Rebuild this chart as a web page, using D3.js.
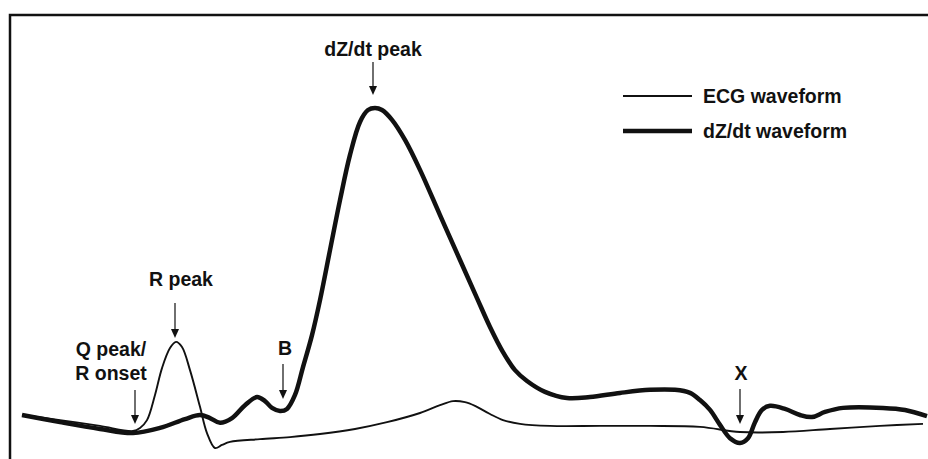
<!DOCTYPE html>
<html>
<head>
<meta charset="utf-8">
<script src="https://cdn.jsdelivr.net/npm/d3@7"></script>
<style>
  body { margin: 0; background: #fff; }
  svg text { font-family: "Liberation Sans", Arial, Helvetica, sans-serif; font-weight: bold; fill: #111; }
</style>
</head>
<body>
<svg id="chart" width="928" height="459"></svg>
<script>
// time (ms, arbitrary origin) and amplitude (% of dZ/dt peak)
const dzTime = [0, 38, 78, 111, 138, 163, 178, 188, 198, 210, 223, 235, 243, 250, 258, 265, 273, 281, 290, 298,
  308, 318, 328, 338, 346, 353, 360, 370, 383, 398, 418, 438, 455, 468, 481, 493, 505, 523, 545, 568,
  598, 628, 653, 668, 678, 688, 698, 708, 718, 726, 733, 740, 748, 763, 778, 790, 803, 821, 861, 883, 905];
const dzValue = [9.7, 7.6, 5.6, 4.4, 5.9, 8.5, 9.7, 8.8, 7.4, 8.8, 12.6, 15.0, 13.8, 11.8, 10.9, 11.5, 15.6, 23.8, 33.2, 43.5,
  58.2, 72.9, 86.2, 95.9, 99.4, 100, 99.4, 96.5, 90.6, 81.8, 68.5, 55.3, 44.1, 35.6, 28.2, 22.9, 19.7, 16.5, 14.7, 15.0,
  16.2, 17.1, 17.1, 16.2, 14.1, 11.2, 6.8, 2.9, 1.5, 2.9, 7.6, 11.2, 12.4, 11.5, 9.7, 9.1, 10.6, 11.8, 11.8, 11.2, 9.4];

const ecgTime = [0, 38, 78, 111, 118, 125, 133, 140, 148, 154, 160, 168, 178, 185, 193, 200, 208, 238, 268, 298,
  333, 365, 398, 418, 431, 443, 453, 468, 481, 498, 528, 578, 628, 678, 718, 761, 808, 858, 901];
const ecgValue = [9.7, 8.2, 6.5, 5.0, 5.9, 8.2, 15.6, 23.5, 29.4, 31.2, 29.7, 22.9, 12.1, 4.4, 0, 0.9, 1.8, 2.6, 3.2, 4.1,
  5.6, 7.6, 10.3, 12.6, 13.8, 13.5, 12.4, 10.0, 8.2, 7.1, 6.5, 6.5, 6.5, 6.2, 4.7, 4.7, 5.6, 6.5, 7.1];

const legendLabels = ["ECG waveform", "dZ/dt waveform"];

// annotated events: label lines and time of the event
const eventLabels = [["dZ/dt peak"], ["R peak"], ["Q peak/", "R onset"], ["B"], ["X"]];
const eventTime = [351, 153, 113, 261, 718];

const svg = d3.select("#chart");

const x = d3.scaleLinear().domain([0, 905]).range([22, 927]);
const y = d3.scaleLinear().domain([0, 100]).range([448, 108]);

// frame (only top and left edges fall inside the picture)
svg.append("path")
  .attr("d", "M10,470 L10,15 L940,15")
  .attr("fill", "none")
  .attr("stroke", "#111")
  .attr("stroke-width", 2.5);

const line = d3.line()
  .x(d => x(d[0]))
  .y(d => y(d[1]))
  .curve(d3.curveCatmullRom.alpha(0.5));

svg.append("path")
  .datum(ecgTime.map((t, i) => [t, ecgValue[i]]))
  .attr("d", line)
  .attr("fill", "none")
  .attr("stroke", "#111")
  .attr("stroke-width", 1.9);

svg.append("path")
  .datum(dzTime.map((t, i) => [t, dzValue[i]]))
  .attr("d", line)
  .attr("fill", "none")
  .attr("stroke", "#111")
  .attr("stroke-width", 4.5)
  .attr("stroke-linejoin", "round");

// legend
const legendWidths = [1.9, 4.5];
legendLabels.forEach((lab, i) => {
  const ly = 96 + i * 35;
  svg.append("line")
    .attr("x1", 623).attr("x2", 692)
    .attr("y1", ly).attr("y2", ly)
    .attr("stroke", "#111")
    .attr("stroke-width", legendWidths[i]);
  svg.append("text")
    .attr("x", 703).attr("y", ly + 7)
    .attr("font-size", 19.5)
    .text(lab);
});

// annotations: text position and arrow (top, tip) per event
const annLayout = [
  { ty: 56, a1: 62, a2: 95 },
  { ty: 286, a1: 303, a2: 338 },
  { ty: 356, a1: 390, a2: 424 },
  { ty: 355, a1: 364, a2: 399 },
  { ty: 380, a1: 389, a2: 424 }
];
const labelShift = [0, 6, -24, 2, 1];

eventLabels.forEach((lines, i) => {
  const ax = x(eventTime[i]);
  const L = annLayout[i];
  const t = svg.append("text")
    .attr("text-anchor", "middle")
    .attr("font-size", 19.5);
  lines.forEach((s, j) => {
    t.append("tspan")
      .attr("x", ax + labelShift[i])
      .attr("y", L.ty + j * 24)
      .text(s);
  });
  svg.append("line")
    .attr("x1", ax).attr("x2", ax)
    .attr("y1", L.a1).attr("y2", L.a2 - 6)
    .attr("stroke", "#333")
    .attr("stroke-width", 1.4);
  svg.append("path")
    .attr("d", `M${ax - 4},${L.a2 - 9} L${ax + 4},${L.a2 - 9} L${ax},${L.a2} Z`)
    .attr("fill", "#111");
});
</script>
</body>
</html>
